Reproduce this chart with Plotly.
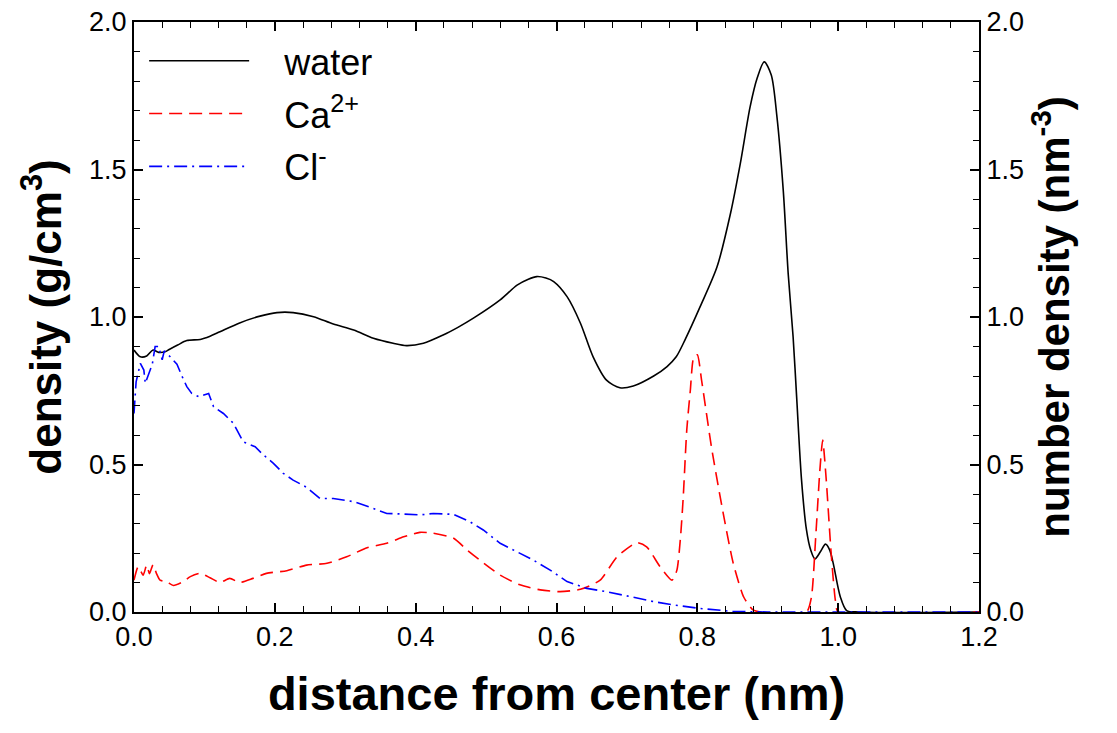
import plotly.graph_objects as go

water_x = [0.0, 0.009, 0.018, 0.027, 0.035, 0.044, 0.05, 0.062, 0.075, 0.094, 0.108, 0.122, 0.15, 0.179,
           0.203, 0.226, 0.255, 0.283, 0.312, 0.34, 0.368, 0.387, 0.411, 0.439, 0.46, 0.482, 0.52, 0.544,
           0.56, 0.572, 0.585, 0.596, 0.615, 0.634, 0.652, 0.671, 0.69, 0.709, 0.738, 0.757, 0.77, 0.783,
           0.804, 0.828, 0.847, 0.861, 0.875, 0.885, 0.895, 0.905, 0.913, 0.922, 0.929, 0.936, 0.941,
           0.948, 0.955, 0.961, 0.967, 0.975, 0.982, 0.988, 0.993, 1.003, 1.012, 1.03, 1.2]
water_y = [0.888, 0.865, 0.868, 0.888, 0.880, 0.882, 0.89, 0.905, 0.92, 0.924, 0.935, 0.95, 0.98, 1.003,
           1.015, 1.015, 1.001, 0.976, 0.956, 0.928, 0.911, 0.903, 0.911, 0.939, 0.965, 0.996, 1.058, 1.108,
           1.128, 1.137, 1.132, 1.12, 1.069, 0.979, 0.865, 0.786, 0.76, 0.766, 0.80, 0.832, 0.865, 0.925,
           1.035, 1.17, 1.35, 1.52, 1.713, 1.81, 1.865, 1.82, 1.68, 1.43, 1.148, 0.933, 0.73,
           0.447, 0.278, 0.21, 0.18, 0.205, 0.23, 0.21, 0.165, 0.052, 0.005, 0.0, 0.0]

ca_x = [0.0, 0.006, 0.013, 0.018, 0.022, 0.027, 0.032, 0.037, 0.046, 0.056, 0.07, 0.08, 0.094, 0.108,
        0.122, 0.136, 0.15, 0.169, 0.188, 0.217, 0.245, 0.274, 0.302, 0.331, 0.359, 0.383, 0.406, 0.425,
        0.454, 0.473, 0.491, 0.52, 0.548, 0.577, 0.605, 0.634, 0.662, 0.686, 0.714, 0.728, 0.747, 0.764,
        0.771, 0.776, 0.78, 0.785, 0.79, 0.795, 0.8, 0.806, 0.82, 0.835, 0.851, 0.866, 0.879, 0.89,
        0.955, 0.962, 0.968, 0.974, 0.978, 0.983, 0.99, 0.996, 1.0, 1.2]
ca_y = [0.108, 0.154, 0.125, 0.159, 0.13, 0.16, 0.13, 0.108, 0.103, 0.09, 0.103, 0.12, 0.131, 0.116,
        0.10, 0.114, 0.10, 0.114, 0.131, 0.14, 0.159, 0.165, 0.187, 0.218, 0.233, 0.255, 0.27, 0.267,
        0.25, 0.21, 0.176, 0.125, 0.092, 0.075, 0.069, 0.077, 0.108, 0.187, 0.235, 0.221, 0.154, 0.108,
        0.142, 0.25, 0.39, 0.617, 0.75, 0.865, 0.872, 0.786, 0.56, 0.357, 0.165, 0.05, 0.007, 0.0,
        0.0, 0.05, 0.25, 0.48, 0.583, 0.45, 0.2, 0.04, 0.0, 0.0]

cl_x = [0.0, 0.003, 0.009, 0.014, 0.016, 0.02, 0.026, 0.03, 0.035, 0.04, 0.043, 0.051, 0.061, 0.068,
        0.075, 0.082, 0.092, 0.106, 0.113, 0.127, 0.141, 0.155, 0.172, 0.184, 0.198, 0.212, 0.226, 0.245,
        0.264, 0.283, 0.312, 0.34, 0.359, 0.383, 0.406, 0.425, 0.454, 0.477, 0.496, 0.52, 0.544, 0.567,
        0.591, 0.615, 0.643, 0.671, 0.709, 0.738, 0.766, 0.804, 0.85, 0.9, 1.2]
cl_y = [0.673, 0.78, 0.843, 0.82, 0.775, 0.80, 0.84, 0.9, 0.9, 0.855, 0.885, 0.866, 0.84, 0.80,
        0.764, 0.741, 0.73, 0.741, 0.696, 0.673, 0.64, 0.577, 0.56, 0.532, 0.504, 0.47, 0.447, 0.423,
        0.385, 0.385, 0.374, 0.351, 0.334, 0.332, 0.329, 0.334, 0.331, 0.306, 0.278, 0.233, 0.204, 0.176,
        0.142, 0.103, 0.08, 0.069, 0.05, 0.035, 0.024, 0.012, 0.002, 0.0, 0.0]

FONT = "Liberation Sans, Arial, sans-serif"
GAP = "\u00a0\u00a0\u00a0"

fig = go.Figure()
fig.add_trace(go.Scatter(x=water_x, y=water_y, mode="lines", name=GAP + "water", legendgroup="a",
                         line=dict(color="black", width=1.6, shape="spline", smoothing=0.8)))
fig.add_trace(go.Scatter(x=ca_x, y=ca_y, mode="lines", name=GAP + "Ca<sup>2+</sup>", yaxis="y2",
                         legendgroup="b",
                         line=dict(color="#ff0000", width=1.6, dash="13px,7px", shape="spline",
                                   smoothing=0.6)))
fig.add_trace(go.Scatter(x=cl_x, y=cl_y, mode="lines", name=GAP + "Cl<sup>-</sup>", yaxis="y2",
                         legendgroup="c",
                         line=dict(color="#0000ff", width=1.6, dash="13px,5px,2px,5px")))

axis_common = dict(showline=True, linecolor="black", linewidth=2, ticks="inside", ticklen=9,
                   tickwidth=1.5, tickcolor="black", showgrid=False, zeroline=False,
                   automargin=False)
minor_common = dict(ticks="inside", ticklen=6, tickcolor="black", tickwidth=1.2)

fig.update_layout(
    width=1117, height=733,
    margin=dict(l=134, r=138, t=22, b=121),
    paper_bgcolor="white", plot_bgcolor="white",
    font=dict(family=FONT, color="black"),
    showlegend=True,
    legend=dict(x=0.012, y=0.985, xanchor="left", yanchor="top", bgcolor="rgba(0,0,0,0)",
                font=dict(family=FONT, size=36), itemwidth=100, tracegroupgap=3),
    xaxis=dict(range=[0, 1.2], dtick=0.2, tickformat=".1f", mirror="ticks",
               tickfont=dict(family=FONT, size=27),
               minor=dict(dtick=0.04, **minor_common),
               title=dict(text="<b>distance from center (nm)</b>", standoff=26,
                          font=dict(family=FONT, size=47)),
               **axis_common),
    yaxis=dict(range=[0, 2.0], dtick=0.5, tickformat=".1f",
               tickfont=dict(family=FONT, size=27),
               minor=dict(dtick=0.1, **minor_common),
               title=dict(text="<b>density (g/cm<sup>3</sup>)</b>", standoff=14,
                          font=dict(family=FONT, size=44)),
               **axis_common),
    yaxis2=dict(range=[0, 2.0], dtick=0.5, tickformat=".1f", overlaying="y", side="right",
                tickfont=dict(family=FONT, size=27),
                minor=dict(dtick=0.1, **minor_common),
                title=dict(text="<b>number density (nm<sup>-3</sup>)</b>", standoff=14,
                           font=dict(family=FONT, size=42)),
                **axis_common),
)

fig.write_html("out.html")
